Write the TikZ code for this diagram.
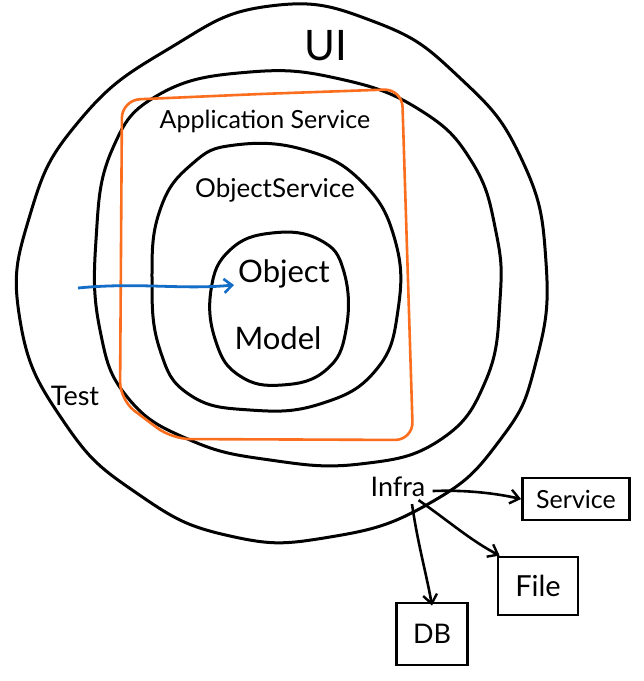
\documentclass[tikz,border=0pt]{standalone}
\usepackage{fontspec}
\setmainfont{Lato}
\usetikzlibrary{arrows.meta}
\definecolor{sketchorange}{RGB}{250,110,30}
\definecolor{sketchblue}{RGB}{20,110,200}
\begin{document}
\begin{tikzpicture}[x=1pt,y=-1pt,
  ring/.style={line width=3pt, line join=round},
  orangebox/.style={draw=sketchorange, line width=2.6pt, rounded corners=18pt},
  lbl/.style={inner sep=1pt, text=black},
  boxnode/.style={draw, line width=2.8pt, inner sep=0pt},
  arr/.style={line width=2.6pt, -{Straight Barb[length=9pt,width=14pt,line width=2.4pt]}},
  bluearr/.style={draw=sketchblue, line width=2.8pt, -{Straight Barb[length=8pt,width=14pt,line width=2.6pt]}}
]
\useasboundingbox (0,0) rectangle (644,681);
\fill[white] (0,0) rectangle (644,681);
% outer ring (UI)
\draw[ring] plot[smooth cycle, tension=0.8] coordinates {
 (270,6) (375,22) (460,78) (522,160) (546,262) (536,362) (500,440) (430,503)
 (330,537) (230,536) (138,494) (64,422) (20,320) (30,215) (80,120) (170,48)};
% application service ring
\draw[ring] plot[smooth cycle, tension=0.75] coordinates {
 (250,72) (340,79) (420,110) (472,162) (496,232) (500,300) (486,380) (440,440)
 (360,464) (270,460) (190,440) (128,398) (100,330) (96,240) (112,150) (160,94)};
% orange rounded box
\draw[orangebox] (260,94) -- (402,89) -- (413,440) -- (172,439) -- (120,400)
 -- (122,100) -- cycle;
% object service ring
\draw[ring] plot[smooth cycle, tension=0.75] coordinates {
 (235,145) (305,150) (362,182) (395,240) (398,310) (376,370) (320,404) (250,410)
 (190,395) (160,350) (152,280) (160,210) (192,164)};
% object model ring
\draw[ring] plot[smooth cycle, tension=0.75] coordinates {
 (272,233) (320,240) (344,272) (346,330) (326,370) (282,385) (240,376) (216,342)
 (211,290) (230,250)};
% labels
\node[lbl, font=\fontsize{42}{42}\selectfont] (ui) at (326,46) {UI};
\node[lbl, font=\fontsize{25}{25}\selectfont] (app) at (265,121) {Application Service};
\node[lbl, font=\fontsize{26}{26}\selectfont] (objsvc) at (275,190) {ObjectService};
\node[lbl, font=\fontsize{31}{31}\selectfont] (obj) at (284,274) {Object};
\node[lbl, font=\fontsize{31}{31}\selectfont] (model) at (278,338) {Model};
\node[lbl, font=\fontsize{27}{27}\selectfont] (test) at (75,396) {Test};
\node[lbl, font=\fontsize{27}{27}\selectfont] (infra) at (398,487) {Infra};
% boxes
\node[boxnode, minimum width=107pt, minimum height=42pt, font=\fontsize{25}{25}\selectfont] (svc) at (576,499) {Service};
\node[boxnode, minimum width=80pt, minimum height=58pt, font=\fontsize{29}{29}\selectfont] (file) at (538,586) {File};
\node[boxnode, minimum width=71pt, minimum height=62pt, font=\fontsize{27}{27}\selectfont] (db) at (432,634) {DB};
% blue arrow
\coordinate (bstart) at (78,288);
\draw[bluearr] (bstart) .. controls (140,282) and (180,290) .. ([xshift=-3pt,yshift=-11pt]obj.west);
% infra arrows
\draw[arr] ([xshift=6pt,yshift=-4pt]infra.east) .. controls (460,490) and (490,492) .. (svc.west);
\draw[arr] ([xshift=-8pt,yshift=-2pt]infra.south east) .. controls (450,522) and (470,540) .. ([xshift=3pt]file.north west);
\draw[arr] ([xshift=14pt,yshift=-6pt]infra.south) .. controls (418,545) and (426,572) .. ([yshift=-4pt]db.north);
\end{tikzpicture}
\end{document}
